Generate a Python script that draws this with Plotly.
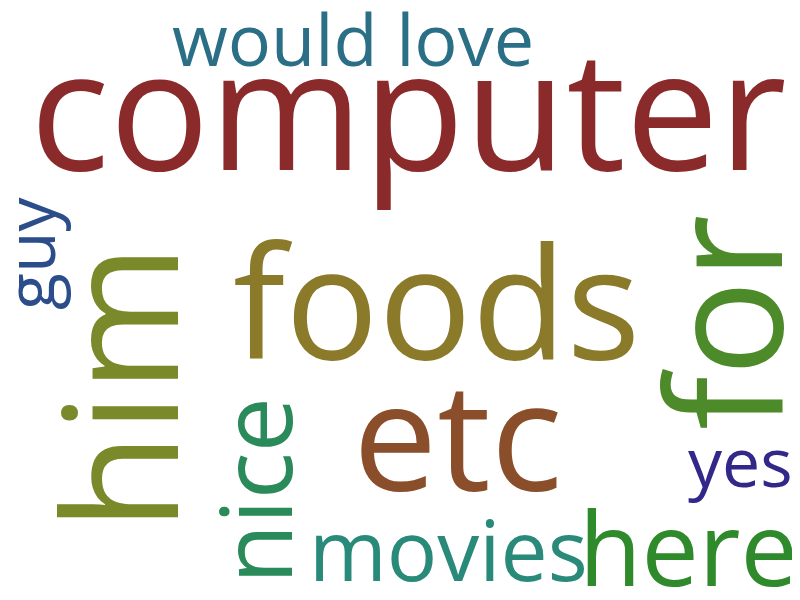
import plotly.graph_objects as go

words = ["computer", "would love", "foods", "him", "guy", "for", "etc", "nice", "yes", "movies", "here"]
sizes = [166, 72, 155, 160, 68, 160, 150, 98, 68, 84, 102]
colors = ["#8b2a2a", "#2a6f86", "#8a7a2a", "#7a8a2a", "#2b4e8a", "#4c8a2a", "#8a4f2a", "#2a8a5a", "#31288a", "#2a8a7a", "#2e8a2a"]
xs = [400, 345, 428, 108, 20, 712, 450, 246, 732, 440, 680]
ys = [98, 30, 290, 380, 245, 315, 425, 483, 452, 540, 538]
angles = [0, 0, 0, -90, -90, -90, 0, -90, 0, 0, 0]

fig = go.Figure()
fig.add_trace(go.Scatter(x=[0, 800], y=[0, 600], mode="markers", marker=dict(opacity=0), hoverinfo="skip"))
for w, s, c, x, y, a in zip(words, sizes, colors, xs, ys, angles):
    fig.add_annotation(x=x, y=y, xref="x", yref="y", text=w, showarrow=False,
                       textangle=a, font=dict(family="Open Sans", size=s, color=c),
                       xanchor="center", yanchor="middle")
fig.update_layout(width=800, height=600, margin=dict(l=0, r=0, t=0, b=0),
                  plot_bgcolor="white", paper_bgcolor="white", showlegend=False,
                  xaxis=dict(range=[0, 800], visible=False),
                  yaxis=dict(range=[600, 0], visible=False))
fig.write_html("out.html")
